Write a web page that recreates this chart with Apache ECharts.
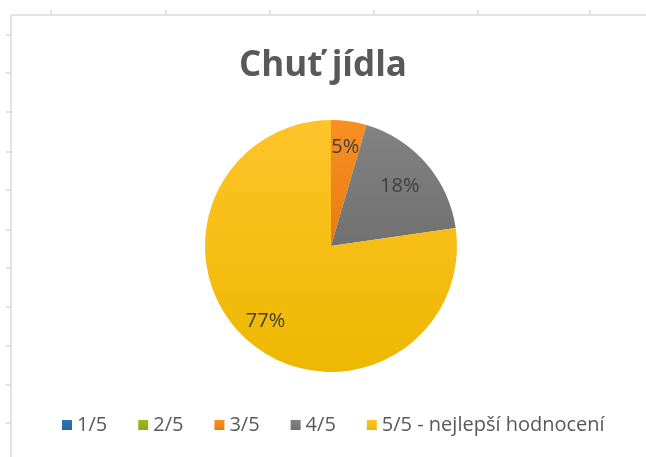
<!DOCTYPE html>
<html>
<head>
<meta charset="utf-8">
<script src="https://cdn.jsdelivr.net/npm/echarts@6/dist/echarts.min.js"></script>
<style>
html,body{margin:0;padding:0;background:#fff;}
#c{width:646px;height:457px;}
</style>
</head>
<body>
<div id="c"></div>
<script>
const categories = ['1/5', '2/5', '3/5', '4/5', '5/5 - nejlepší hodnocení'];
const counts = [0, 0, 1, 4, 17];
const colors = ['#2E75B6', '#9BBB1F', '#FA8F22', '#828282', '#FFC42A'];
const gradEnd = ['#2566A0', '#8AA81A', '#E87C12', '#717171', '#EDB800'];
const topTicksX = [51, 166, 270, 374, 478, 590];
const leftTicksY = [35, 73, 112, 152, 190, 230, 268, 307, 346, 385, 423];

const chart = echarts.init(document.getElementById('c'), null, {renderer: 'canvas'});

const gfx = [
  {type: 'line', shape: {x1: 11, y1: 15, x2: 646, y2: 15}, style: {stroke: '#DADADA', lineWidth: 1.5}, silent: true},
  {type: 'line', shape: {x1: 11, y1: 15, x2: 11, y2: 457}, style: {stroke: '#DADADA', lineWidth: 1.5}, silent: true}
];
topTicksX.forEach(x => gfx.push({type: 'line', shape: {x1: x, y1: 10, x2: x, y2: 15}, style: {stroke: '#DADADA', lineWidth: 1.5}, silent: true}));
leftTicksY.forEach(y => gfx.push({type: 'line', shape: {x1: 6, y1: y, x2: 11, y2: y}, style: {stroke: '#DADADA', lineWidth: 1.5}, silent: true}));

const total = counts.reduce((a, b) => a + b, 0);
const pct = v => Math.round(v / total * 100) + '%';

const center = [331, 246];
const labelStyle = {fontFamily: 'Open Sans', fontSize: 20, color: '#404040'};

function overlay(inner, showIdx) {
  return {
    type: 'pie',
    center: center,
    radius: [inner, 126],
    startAngle: 90,
    clockwise: true,
    silent: true,
    avoidLabelOverlap: false,
    legendHoverLink: false,
    label: Object.assign({show: true, position: 'inside', formatter: p => showIdx.includes(p.dataIndex) && p.value > 0 ? pct(p.value) : ''}, labelStyle),
    labelLine: {show: false},
    itemStyle: {color: 'rgba(0,0,0,0)', borderWidth: 0},
    emphasis: {disabled: true},
    data: categories.map((name, i) => ({name: name, value: counts[i]}))
  };
}

chart.setOption({
  backgroundColor: '#fff',
  animation: false,
  color: colors,
  title: {
    text: 'Chuť jídla',
    left: 'center',
    top: 44,
    textStyle: {fontFamily: 'Open Sans', fontWeight: 'bold', fontSize: 35, color: '#595959'}
  },
  legend: {
    bottom: 17,
    left: 57,
    itemWidth: 10,
    itemHeight: 10,
    itemGap: 31,
    icon: 'rect',
    textStyle: {fontFamily: 'Open Sans', fontSize: 20, color: '#595959'},
    data: categories
  },
  graphic: gfx,
  series: [{
    type: 'pie',
    center: center,
    radius: 126,
    startAngle: 90,
    clockwise: true,
    stillShowZeroSum: true,
    label: {show: false},
    labelLine: {show: false},
    itemStyle: {borderWidth: 0},
    data: categories.map((name, i) => ({
      name: name,
      value: counts[i],
      itemStyle: {color: new echarts.graphic.LinearGradient(0, 0, 0, 1, [{offset: 0, color: colors[i]}, {offset: 1, color: gradEnd[i]}])}
    }))
  },
  overlay(68, [2, 4]),
  overlay(50, [3])
  ]
});
</script>
</body>
</html>
